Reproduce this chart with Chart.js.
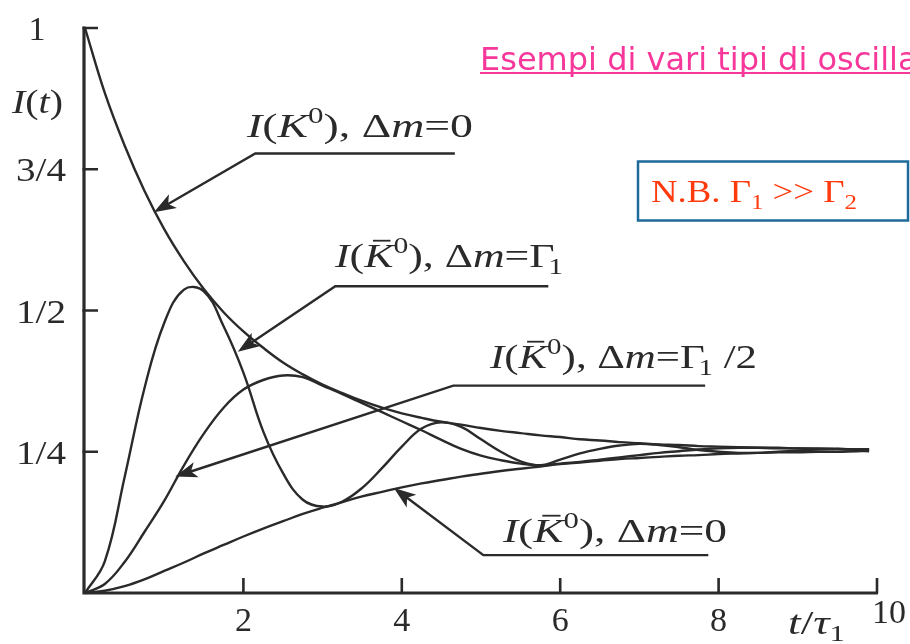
<!DOCTYPE html>
<html lang="it">
<head>
<meta charset="UTF-8">
<title>Oscillazioni K0 - K0bar</title>
<style>
    body {
        margin: 0;
        background: #fff;
    }
</style>
</head>
<body>
<canvas id="myCanvas" width="910" height="644"></canvas>
<script src="https://cdn.jsdelivr.net/npm/chart.js@4/dist/chart.umd.min.js"></script>
<script>
// time in units of tau_1
const tValues = [0, 0.25, 0.5, 0.75, 1, 1.25, 1.5, 1.75, 2, 2.25, 2.5, 2.75, 3, 3.25, 3.5, 3.75,
    4, 4.25, 4.5, 4.75, 5, 5.25, 5.5, 5.75, 6, 6.25, 6.5, 6.75, 7, 7.25, 7.5, 7.75,
    8, 8.25, 8.5, 8.75, 9, 9.25, 9.5, 9.75, 9.9];

// I(K0), dm = 0
const iK0 = [1.000, 0.885, 0.792, 0.712, 0.644, 0.587, 0.538, 0.497, 0.463, 0.434, 0.408, 0.387,
    0.369, 0.354, 0.340, 0.328, 0.318, 0.310, 0.303, 0.298, 0.292, 0.287, 0.283, 0.279,
    0.276, 0.272, 0.270, 0.267, 0.265, 0.263, 0.262, 0.260, 0.259, 0.258, 0.257, 0.256,
    0.256, 0.255, 0.255, 0.254, 0.254];

// I(K0bar), dm = Gamma1
const iKbGamma = [0, 0.056, 0.205, 0.362, 0.478, 0.537, 0.534, 0.472, 0.390, 0.286, 0.212, 0.165,
    0.153, 0.162, 0.186, 0.221, 0.259, 0.291, 0.302, 0.294, 0.272, 0.250, 0.233, 0.226,
    0.236, 0.247, 0.255, 0.261, 0.264, 0.262, 0.258, 0.253, 0.250, 0.248, 0.248, 0.250,
    0.252, 0.254, 0.255, 0.254, 0.254];

// I(K0bar), dm = Gamma1/2
const iKbHalf = [0, 0.016, 0.055, 0.108, 0.163, 0.226, 0.282, 0.328, 0.360, 0.377, 0.385, 0.382,
    0.367, 0.352, 0.336, 0.320, 0.304, 0.288, 0.271, 0.255, 0.243, 0.235, 0.229, 0.226,
    0.229, 0.232, 0.236, 0.240, 0.244, 0.248, 0.251, 0.254, 0.256, 0.257, 0.257, 0.257,
    0.256, 0.256, 0.255, 0.254, 0.254];

// I(K0bar), dm = 0
const iKb0 = [0, 0.004, 0.012, 0.024, 0.039, 0.054, 0.070, 0.085, 0.100, 0.114, 0.127, 0.140,
    0.151, 0.161, 0.171, 0.179, 0.187, 0.194, 0.200, 0.206, 0.211, 0.216, 0.220, 0.224,
    0.228, 0.231, 0.234, 0.237, 0.239, 0.241, 0.243, 0.244, 0.246, 0.247, 0.248, 0.249,
    0.249, 0.250, 0.250, 0.251, 0.251];

const xTicks = [2, 4, 6, 8, 10];
const yTicks = [0.25, 0.5, 0.75, 1];
const yTickLabels = ['1/4', '1/2', '3/4', '1'];

const ink = '#2a2a2a';
const serif = '"Liberation Serif", "DejaVu Serif", serif';

// callouts: label pieces + leader line (end, bend, arrow tip) in data units
const callouts = [
    {
        segs: [{t: 'I', it: 1}, {t: '('}, {t: 'K', it: 1}, {t: '0', sup: 1}, {t: '), Δ'}, {t: 'm', it: 1}, {t: '=0'}],
        at: [247, 137, 226],
        line: [[4.67, 0.778], [2.15, 0.778], [0.87, 0.674]]
    },
    {
        segs: [{t: 'I', it: 1}, {t: '('}, {t: 'K', it: 1, bar: 1}, {t: '0', sup: 1}, {t: '), Δ'}, {t: 'm', it: 1}, {t: '=Γ'}, {t: '1', sub: 1, kern: -5}],
        at: [335, 267, 228],
        line: [[5.85, 0.543], [3.16, 0.543], [1.93, 0.427]]
    },
    {
        segs: [{t: 'I', it: 1}, {t: '('}, {t: 'K', it: 1, bar: 1}, {t: '0', sup: 1}, {t: '), Δ'}, {t: 'm', it: 1}, {t: '=Γ'}, {t: '1', sub: 1, kern: -5}, {t: ' /2'}],
        at: [490, 368, 267],
        line: [[7.83, 0.367], [4.65, 0.367], [1.14, 0.206]]
    },
    {
        segs: [{t: 'I', it: 1}, {t: '('}, {t: 'K', it: 1, bar: 1}, {t: '0', sup: 1}, {t: '), Δ'}, {t: 'm', it: 1}, {t: '=0'}],
        at: [503, 542, 224],
        line: [[7.87, 0.067], [5.03, 0.067], [3.90, 0.186]]
    }
];

function series(ys) {
    return tValues.map((t, i) => ({x: t, y: ys[i]}));
}

// draws a line of mixed text (italic, superscript, subscript, overbar), stretched to width
function richText(ctx, segs, x, y, width, size, color) {
    const fontOf = s => (s.it ? 'italic ' : '') + Math.round((s.sup || s.sub) ? size * 0.68 : size) + 'px ' + serif;
    let total = 0;
    const widths = segs.map(s => {
        ctx.font = fontOf(s);
        const w = ctx.measureText(s.t).width;
        total += w + (s.kern || 0);
        return w;
    });
    const sx = width ? width / total : 1;
    ctx.save();
    ctx.translate(x, y);
    ctx.scale(sx, 1);
    ctx.fillStyle = color;
    ctx.textAlign = 'left';
    ctx.textBaseline = 'alphabetic';
    let cx = 0;
    segs.forEach((s, i) => {
        cx += s.kern || 0;
        ctx.font = fontOf(s);
        const dy = s.sup ? -size * 0.42 : s.sub ? size * 0.22 : 0;
        ctx.fillText(s.t, cx, dy);
        if (s.bar) {
            ctx.fillRect(cx + widths[i] * 0.3, -size * 0.8, widths[i] * 0.6, 1.8);
        }
        cx += widths[i];
    });
    ctx.restore();
}

function arrowHead(ctx, from, tip) {
    const a = Math.atan2(tip.y - from.y, tip.x - from.x);
    const len = 22, half = 8;
    ctx.save();
    ctx.translate(tip.x, tip.y);
    ctx.rotate(a);
    ctx.beginPath();
    ctx.moveTo(0, 0);
    ctx.lineTo(-len, -half);
    ctx.lineTo(-len * 0.75, 0);
    ctx.lineTo(-len, half);
    ctx.closePath();
    ctx.fill();
    ctx.restore();
}

const decorations = {
    id: 'decorations',
    afterDraw(chart) {
        const ctx = chart.ctx;
        const xs = chart.scales.x, ys = chart.scales.y;
        const px = v => xs.getPixelForValue(v);
        const py = v => ys.getPixelForValue(v);
        const x0 = px(0), y0 = py(0);

        ctx.save();
        ctx.strokeStyle = ink;
        ctx.fillStyle = ink;
        ctx.lineCap = 'butt';

        // axes
        ctx.lineWidth = 3.2;
        ctx.beginPath();
        ctx.moveTo(x0 - 1, py(1) - 1.5);
        ctx.lineTo(x0 - 1, y0 + 1.5);
        ctx.moveTo(x0 - 2.5, y0);
        ctx.lineTo(px(10) + 1, y0);
        ctx.stroke();

        // inward ticks
        ctx.lineWidth = 2.6;
        ctx.beginPath();
        xTicks.forEach(v => {
            ctx.moveTo(px(v), y0);
            ctx.lineTo(px(v), y0 - 15);
        });
        yTicks.forEach(v => {
            ctx.moveTo(x0 - 2.5, py(v));
            ctx.lineTo(x0 + 13, py(v));
        });
        ctx.stroke();

        // tick labels
        ctx.font = '34px ' + serif;
        ctx.textAlign = 'center';
        ctx.textBaseline = 'alphabetic';
        xTicks.forEach(v => {
            if (v === 10) ctx.fillText(String(v), px(v) + 12, y0 + 30);
            else ctx.fillText(String(v), px(v), y0 + 38);
        });
        yTicks.forEach((v, i) => {
            const label = yTickLabels[i];
            ctx.save();
            const lx = label === '1' ? 37 : 41;
            ctx.translate(lx, py(v) + 12);
            ctx.scale(label === '1' ? 1 : 1.15, 1);
            ctx.fillText(label, 0, 0);
            ctx.restore();
        });

        // axis titles
        richText(ctx, [{t: 'I', it: 1}, {t: '('}, {t: 't', it: 1}, {t: ')'}], 12, 113, 51, 34, ink);
        richText(ctx, [{t: 't', it: 1}, {t: '/'}, {t: 'τ', it: 1}, {t: '1', sub: 1}], 788, 634, 57, 34, ink);

        // callouts
        ctx.lineWidth = 2.4;
        callouts.forEach(c => {
            const pts = c.line.map(p => ({x: px(p[0]), y: py(p[1])}));
            const bend = pts[1], tip = pts[2];
            const d = Math.hypot(tip.x - bend.x, tip.y - bend.y);
            const stop = {x: tip.x - (tip.x - bend.x) / d * 14, y: tip.y - (tip.y - bend.y) / d * 14};
            ctx.beginPath();
            ctx.moveTo(pts[0].x, pts[0].y);
            ctx.lineTo(bend.x, bend.y);
            ctx.lineTo(stop.x, stop.y);
            ctx.stroke();
            arrowHead(ctx, bend, tip);
            richText(ctx, c.segs, c.at[0], c.at[1], c.at[2], 34, ink);
        });

        // slide title (underlined, runs off the right edge)
        ctx.font = '32px "DejaVu Sans", Verdana, sans-serif';
        ctx.textAlign = 'left';
        ctx.fillStyle = '#f7379a';
        ctx.fillText('Esempi di vari tipi di oscillazione', 480, 70);
        ctx.fillRect(480, 72, 440, 2);

        // note box
        ctx.strokeStyle = '#1e6a9b';
        ctx.lineWidth = 2.5;
        ctx.strokeRect(638, 161.5, 270, 59);
        richText(ctx, [{t: 'N.B. '}, {t: 'Γ'}, {t: '1', sub: 1}, {t: ' >> '}, {t: 'Γ'}, {t: '2', sub: 1}],
            651, 202, 206, 31, '#ff3a0c');

        ctx.restore();
    }
};

const lineStyle = {
    borderColor: ink,
    borderWidth: 2.4,
    pointRadius: 0,
    showLine: true,
    tension: 0.4,
    fill: false,
    clip: false
};

new Chart(document.getElementById('myCanvas'), {
    type: 'scatter',
    data: {
        datasets: [
            {label: 'I(K0), Δm=0', data: series(iK0), ...lineStyle},
            {label: 'I(K0bar), Δm=Γ1', data: series(iKbGamma), ...lineStyle},
            {label: 'I(K0bar), Δm=Γ1/2', data: series(iKbHalf), ...lineStyle},
            {label: 'I(K0bar), Δm=0', data: series(iKb0), ...lineStyle}
        ]
    },
    options: {
        responsive: false,
        animation: false,
        layout: {padding: {left: 85, right: 33, top: 28, bottom: 51}},
        scales: {
            x: {type: 'linear', min: 0, max: 10, display: false},
            y: {type: 'linear', min: 0, max: 1, display: false}
        },
        plugins: {
            legend: {display: false},
            tooltip: {enabled: false}
        }
    },
    plugins: [decorations]
});
</script>
</body>
</html>
